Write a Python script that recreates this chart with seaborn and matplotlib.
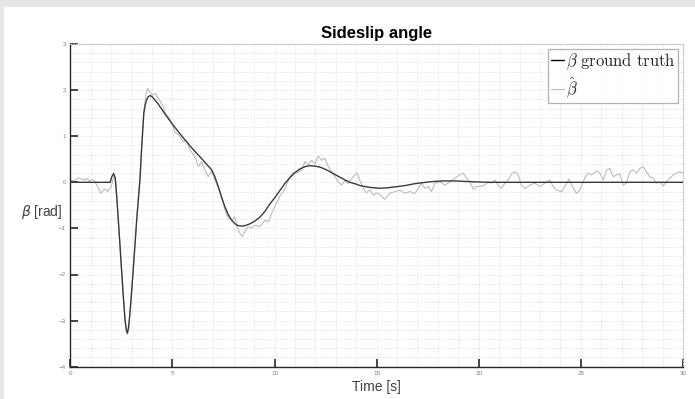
import matplotlib
matplotlib.use("Agg")
import matplotlib.pyplot as plt
import seaborn as sns
import numpy as np
from matplotlib.ticker import MultipleLocator
from matplotlib.patches import Rectangle

# ---------------- data ----------------
t_truth = [0, 1.95, 2.03, 2.12, 2.2, 2.27, 2.35, 2.43, 2.51, 2.6, 2.68, 2.74, 2.79,
           2.85, 2.92, 3.0, 3.08, 3.17, 3.25, 3.33, 3.41, 3.5, 3.6, 3.67, 3.74, 3.82,
           3.9, 4.0, 4.3, 4.64, 5.0, 5.5, 6.0, 6.5, 6.92, 7.08, 7.25, 7.41, 7.57, 7.73,
           7.9, 8.06, 8.22, 8.4, 8.55, 8.8, 9.04, 9.3, 9.53, 9.77, 10.02, 10.26, 10.5,
           10.75, 11.0, 11.24, 11.5, 11.73, 12.0, 12.22, 12.5, 12.71, 13.0, 13.2, 13.45,
           13.69, 14.0, 14.18, 14.4, 14.67, 14.9, 15.16, 15.5, 15.9, 16.4, 16.87, 17.4,
           17.85, 18.3, 18.83, 19.3, 19.81, 20.5, 30]
beta_truth = [0, 0, 0.12, 0.19, 0.1, -0.3, -0.82, -1.35, -1.9, -2.5, -2.99, -3.2, -3.27,
              -3.15, -2.84, -2.38, -1.9, -1.33, -0.82, -0.38, 0.05, 0.8, 1.5, 1.68, 1.79, 1.86,
              1.88, 1.86, 1.7, 1.48, 1.26, 0.98, 0.72, 0.48, 0.27, 0.12, -0.1, -0.33, -0.53, -0.7,
              -0.82, -0.9, -0.94, -0.95, -0.94, -0.9, -0.84, -0.75, -0.63, -0.47, -0.33, -0.18, -0.03,
              0.1, 0.21, 0.29, 0.34, 0.36, 0.35, 0.33, 0.28, 0.23, 0.16, 0.11, 0.05,
              0.0, -0.04, -0.07, -0.09, -0.11, -0.12, -0.13, -0.12, -0.1, -0.07, -0.03, 0.0,
              0.02, 0.03, 0.03, 0.02, 0.01, 0.0, 0.0]

t_est = [0, 0.2, 0.39, 0.55, 0.7, 0.85, 0.93, 1.05, 1.17, 1.35, 1.5, 1.67, 1.84, 2.0,
         2.08, 2.15, 2.22, 2.3, 2.4, 2.5, 2.6, 2.7, 2.76, 2.8, 2.86, 2.92, 3.0, 3.1, 3.2,
         3.3, 3.4, 3.5, 3.6, 3.7, 3.79, 3.9, 4.01, 4.15, 4.31, 4.45, 4.55, 4.64, 4.8, 4.96,
         5.12, 5.25, 5.37, 5.53, 5.69, 5.86, 6.1, 6.27, 6.43, 6.59, 6.75, 6.92, 7.08, 7.25,
         7.41, 7.57, 7.73, 7.9, 8.06, 8.14, 8.31, 8.42, 8.55, 8.71, 8.88, 9.04, 9.29, 9.53,
         9.7, 9.86, 10.02, 10.26, 10.43, 10.59, 10.75, 10.92, 11.08, 11.33, 11.49, 11.65,
         11.81, 11.98, 12.14, 12.3, 12.47, 12.63, 12.79, 12.96, 13.12, 13.28, 13.45, 13.61,
         13.77, 13.94, 14.05, 14.18, 14.34, 14.5, 14.67, 14.83, 15.0, 15.16, 15.4, 15.65,
         15.9, 16.14, 16.38, 16.63, 16.87, 17.04, 17.2, 17.36, 17.53, 17.69, 17.85, 18.09,
         18.34, 18.58, 18.83, 19.07, 19.23, 19.4, 19.56, 19.73, 19.89, 20.05, 20.3, 20.46,
         20.62, 20.79, 20.95, 21.11, 21.28, 21.44, 21.6, 21.77, 21.93, 22.09, 22.26, 22.5,
         22.75, 22.99, 23.24, 23.48, 23.64, 23.81, 24.05, 24.21, 24.42, 24.58, 24.78, 24.95,
         25.11, 25.22, 25.36, 25.52, 25.77, 25.93, 26.09, 26.26, 26.42, 26.58, 26.75, 26.91,
         27.07, 27.23, 27.4, 27.56, 27.72, 27.89, 28.05, 28.21, 28.38, 28.54, 28.7, 28.87,
         29.03, 29.19, 29.36, 29.52, 29.68, 29.85, 30.0]
beta_est = [0.05, 0.03, 0.1, 0.07, 0.05, 0.08, 0.02, 0.06, 0.04, -0.1, -0.24, -0.14, -0.2, -0.1,
            0.05, 0.15, 0.02, -0.45, -1.15, -1.85, -2.5, -3.05, -3.22, -3.3, -3.2, -2.88, -2.4, -1.8, -1.15,
            -0.5, 0.05, 0.8, 1.55, 1.9, 2.04, 1.95, 1.89, 1.93, 1.82, 1.72, 1.64, 1.5, 1.42, 1.3,
            1.08, 1.05, 0.99, 0.88, 0.9, 0.7, 0.56, 0.34, 0.45, 0.27, 0.12, 0.24, 0.05, -0.12,
            -0.31, -0.6, -0.78, -0.82, -0.75, -0.93, -1.11, -1.18, -1.07, -0.96, -1.0, -0.93, -0.96, -0.82,
            -0.86, -0.67, -0.52, -0.3, -0.2, -0.06, 0.12, 0.22, 0.2, 0.27, 0.45, 0.38,
            0.48, 0.4, 0.57, 0.48, 0.52, 0.34, 0.23, 0.12, 0.01, -0.06, 0.04, -0.03,
            0.08, 0.16, 0.2, 0.04, -0.13, -0.23, -0.16, -0.28, -0.23, -0.27, -0.37, -0.24,
            -0.2, -0.17, -0.24, -0.2, -0.24, -0.13, -0.02, -0.13, -0.09, -0.2, -0.02, 0.01,
            -0.06, 0.01, 0.09, 0.16, 0.2, 0.09, 0.01, -0.15, -0.09, -0.09, -0.06, 0.01,
            -0.02, 0.05, -0.06, -0.13, -0.02, 0.05, 0.18, 0.23, 0.16, -0.06, -0.13, -0.06,
            -0.02, -0.09, -0.02, 0.05, -0.09, -0.17, -0.2, -0.09, 0.07, -0.09, -0.24, -0.17,
            0.01, 0.12, 0.2, 0.16, 0.25, 0.2, 0.05, 0.27, 0.3, 0.12, 0.16, 0.18,
            -0.06, -0.02, 0.23, 0.27, 0.2, 0.3, 0.34, 0.23, 0.12, 0.09, -0.02, 0.01,
            -0.08, 0.01, 0.09, 0.16, 0.2, 0.23, 0.2]

labels = [r'$\beta\ \mathrm{ground\ truth}$', r'$\hat{\beta}$']
title = "Sideslip angle"
xlabel = "Time [s]"
ylabel = r"$\beta$ [rad]"

# ---------------- style ----------------
sns.set_style("white")
plt.rcParams['font.family'] = ['Liberation Sans', 'DejaVu Sans']
plt.rcParams['mathtext.fontset'] = 'cm'

fig = plt.figure(figsize=(6.95, 3.99), dpi=100, facecolor='#e5e6e8')
fig.patches.append(Rectangle((4 / 695, 0), 1, 1 - 7 / 399, transform=fig.transFigure,
                             facecolor='white', edgecolor='none', zorder=-10))
ax = fig.add_axes([70.3 / 695, 1 - 366.7 / 399, (683 - 70.3) / 695, (366.7 - 44) / 399])
ax.set_zorder(1)
ax.set_facecolor('white')

sns.lineplot(x=t_truth, y=beta_truth, ax=ax, color='#3a3a3a', linewidth=1.0,
             estimator=None, sort=False, label=labels[0], zorder=3)
sns.lineplot(x=t_est, y=beta_est, ax=ax, color='#bcbcbc', linewidth=0.8,
             estimator=None, sort=False, label=labels[1], zorder=2)

ax.set_xlim(0, 30)
ax.set_ylim(-4, 3)
ax.xaxis.set_major_locator(MultipleLocator(5))
ax.xaxis.set_minor_locator(MultipleLocator(1))
ax.yaxis.set_major_locator(MultipleLocator(1))
ax.yaxis.set_minor_locator(MultipleLocator(0.2))
ax.grid(True, which='both', linestyle=':', color='#d6d6d6', linewidth=0.6)
ax.set_axisbelow(True)

for s in ['left', 'bottom']:
    ax.spines[s].set_color('#262626')
    ax.spines[s].set_linewidth(1.0)
for s in ['top', 'right']:
    ax.spines[s].set_color('#c0c0c0')
    ax.spines[s].set_linestyle(':')
    ax.spines[s].set_linewidth(0.8)

ax.tick_params(which='major', direction='in', length=6, width=1.2, color='#262626',
               labelsize=4.5, labelcolor='#808080', left=True, bottom=True, pad=3)
ax.tick_params(which='minor', length=0)

ax.set_title(title, fontsize=12, fontweight='bold', color='black', pad=4)
ax.set_xlabel(xlabel, fontsize=10, color='#404040', labelpad=3)
ax.set_ylabel(ylabel, fontsize=10, color='#404040', rotation=0, ha='right', va='center',
              math_fontfamily='dejavusans')
ax.yaxis.set_label_coords(-0.013, 0.48)

leg = ax.legend(loc='upper right', fontsize=12, handlelength=0.8, handletextpad=0.1,
                borderpad=0.15, labelspacing=0.2, borderaxespad=0.3, frameon=True,
                fancybox=False)
leg.get_frame().set_edgecolor('#a0a0a0')
leg.get_frame().set_linewidth(0.9)
leg.legend_handles[0].set_color('black')

fig.savefig('out.png', dpi=100, facecolor=fig.get_facecolor())
